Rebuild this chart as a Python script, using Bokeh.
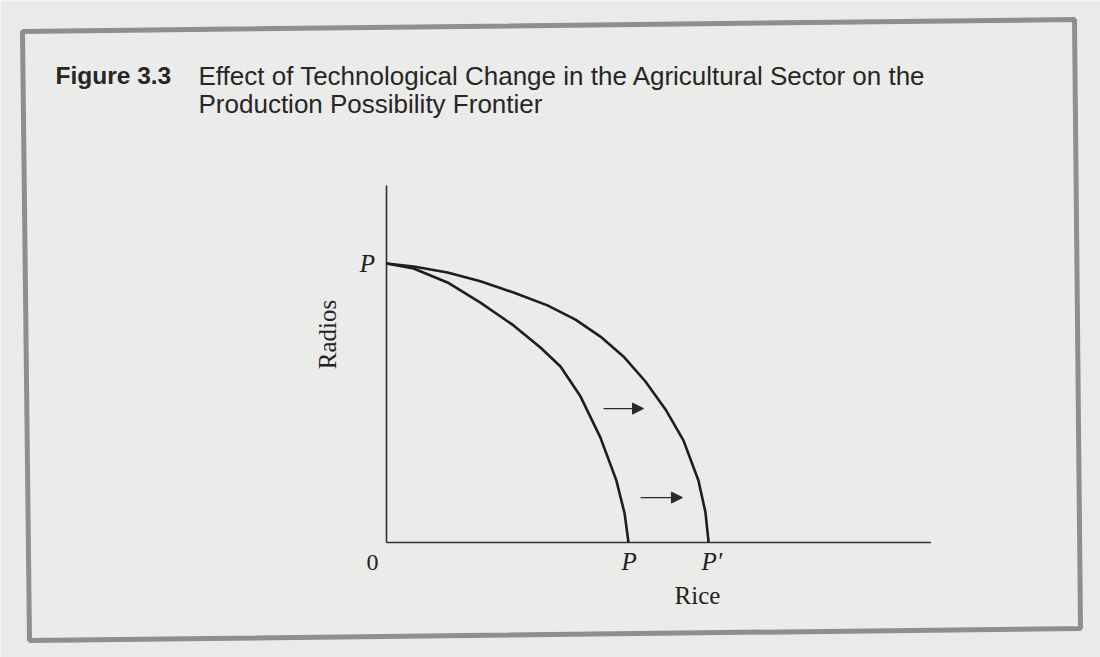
from bokeh.plotting import figure
from bokeh.models import Arrow, NormalHead, Range1d
from bokeh.core.properties import value
from bokeh.embed import file_html
from bokeh.resources import INLINE

# ---- data (arbitrary units) ----
rice_old   = [0.00, 1.12, 2.52, 3.88, 5.25, 6.36, 7.19, 8.02, 8.84, 9.50, 9.84, 10.00]
radios_old = [10.0, 9.82, 9.32, 8.60, 7.78, 6.99, 6.31, 5.23, 3.76, 2.22, 1.04, 0.00]
rice_new   = [0.00, 1.12, 2.52, 3.88, 5.25, 6.65, 7.81, 8.84, 9.79, 10.70, 11.53, 12.27, 12.89, 13.18, 13.31]
radios_new = [10.0, 9.89, 9.68, 9.36, 8.96, 8.50, 7.99, 7.38, 6.67, 5.77, 4.77, 3.66, 2.22, 1.08, 0.00]
arrow_x0 = [8.97, 10.50]
arrow_x1 = [10.62, 12.23]
arrow_y  = [4.80, 1.61]
y_axis_top = 12.8
x_axis_end = 22.5
title_num = "Figure 3.3"
title_lines = ["Effect of Technological Change in the Agricultural Sector on the",
               "Production Possibility Frontier"]
x_label = "Rice"
y_label = "Radios"

# ---- layout helpers: page pixel -> data ----
W, H = 1100, 657
OX, OY, SX, SY = 386.0, 542.0, 24.2, 27.9
def dx(X): return (X - OX) / SX
def dy(Y): return (OY - Y) / SY

p = figure(width=W, height=H, output_backend="svg", toolbar_location=None,
           x_axis_type=None, y_axis_type=None, min_border=0,
           x_range=Range1d(dx(0), dx(W)), y_range=Range1d(dy(H), dy(0)))
p.grid.visible = False
p.outline_line_color = None
p.background_fill_color = "#eaeae8"
p.border_fill_color = "#eaeae8"

# frame (slightly tilted, as in the scan)
fx = [dx(22), dx(1074), dx(1080), dx(29)]
fy = [dy(31), dy(19), dy(628), dy(640)]
p.patch(fx, fy, fill_color="#ebebea", line_color="#8e8e8e", line_width=5)

# title
p.text(x=[dx(55)], y=[dy(75)], text=[title_num], text_font=value("Liberation Sans"),
       text_font_size="24.5px", text_font_style="bold", text_color="#262626",
       text_baseline="middle", text_align="left")
p.text(x=[dx(198), dx(198)], y=[dy(75), dy(103)], text=title_lines,
       text_font=value("Liberation Sans"), text_font_size="26px",
       text_color="#262626", text_baseline="middle", text_align="left")

# axes
p.segment(x0=[0, 0], y0=[0, 0], x1=[0, x_axis_end], y1=[y_axis_top, 0],
          line_color="#303030", line_width=1.6)

# curves
p.line(rice_old, radios_old, line_color="#1e1e1e", line_width=2.6, line_join="round")
p.line(rice_new, radios_new, line_color="#1e1e1e", line_width=2.6, line_join="round")

# arrows
for x0, x1, y in zip(arrow_x0, arrow_x1, arrow_y):
    p.add_layout(Arrow(x_start=x0, y_start=y, x_end=x1, y_end=y, line_width=1.4,
                       line_color="#2a2a2a",
                       end=NormalHead(size=11, fill_color="#2a2a2a", line_color="#2a2a2a")))

serif = value("Liberation Serif")
# intercept labels
p.text(x=[dx(367)], y=[radios_old[0]], text=["P"], text_font=serif, text_font_style="italic",
       text_font_size="25px", text_color="#222", text_align="center", text_baseline="middle")
p.text(x=[rice_old[-1], rice_new[-1]], y=[dy(561), dy(561)], text=["P", "P\u2032"],
       text_font=serif, text_font_style="italic", text_font_size="25px", text_color="#222",
       text_align="left", text_baseline="middle", x_offset=-7)
p.text(x=[0], y=[dy(562)], text=["0"], text_font=serif, text_font_size="24px",
       text_color="#222", text_align="center", text_baseline="middle", x_offset=-14)
# axis titles
p.text(x=[dx(697)], y=[dy(595)], text=[x_label], text_font=serif, text_font_size="25px",
       text_color="#222", text_align="center", text_baseline="middle")
p.text(x=[dx(327)], y=[dy(334)], text=[y_label], text_font=serif, text_font_size="25px",
       text_color="#222", text_align="center", text_baseline="middle", angle=1.5708)

open("out.html", "w").write(file_html(p, INLINE))
